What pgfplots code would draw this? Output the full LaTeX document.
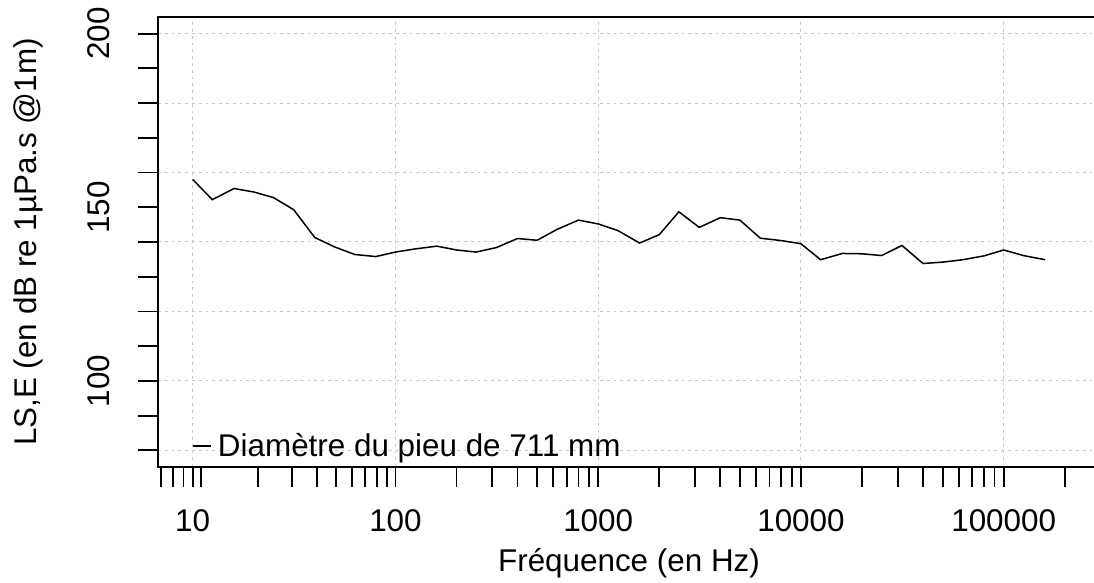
\documentclass[border=0pt]{standalone}
\usepackage{fontspec}
\setmainfont{Liberation Sans}
\usepackage{pgfplots}
\usepackage{pgfplotstable}
\pgfplotsset{compat=1.18}

\definecolor{gridgray}{RGB}{200,200,200}

% niveau LS,E par bande de tiers d'octave
\pgfplotstableread{
f    L
10     158.0
12.5   152.2
16     155.4
20     154.4
25     152.8
31.5   149.3
40     141.3
50     138.6
63     136.4
80     135.8
100    137.1
125    138.0
160    138.8
200    137.7
250    137.1
315    138.4
400    141.0
500    140.5
630    143.7
800    146.3
1000   145.2
1250   143.3
1600   139.7
2000   142.1
2500   148.7
3150   144.2
4000   147.0
5000   146.3
6300   141.1
8000   140.4
10000  139.5
12500  134.9
16000  136.7
20000  136.6
25000  136.1
31500  139.0
40000  133.8
50000  134.2
63000  134.9
80000  136.0
100000 137.7
125000 136.1
160000 134.9
}\spectre

\begin{document}
\begin{tikzpicture}[font=\fontsize{15.7}{18}\selectfont]
\useasboundingbox (0,0) rectangle (547pt,291.5pt);
\begin{axis}[
  at={(79pt,58pt)}, anchor=south west,
  width=471pt, height=225pt, scale only axis,
  xmode=log, log basis x=10,
  xmin=6.745, xmax=298500,
  ymin=75.2, ymax=204.8,
  axis line style={line width=0.9pt},
  tick align=outside, tick pos=left,
  major tick length=10pt, minor tick length=10pt,
  tick style={black, line width=0.9pt},
  xtick={10,100,1000,10000,100000},
  xticklabels={10,100,1000,10000,100000},
  minor xtick={7,8,9,11,21,31,41,51,61,71,81,91,
    200,300,400,500,600,700,800,900,
    2000,3000,4000,5000,6000,7000,8000,9000,
    20000,30000,40000,50000,60000,70000,80000,90000,200000},
  ytick={80,100,...,200},
  yticklabels={,100,,,,,200},
  minor ytick={90,110,...,190},
  extra y ticks={150},
  extra y tick labels={150},
  extra y tick style={grid=none},
  xmajorgrids, ymajorgrids,
  major grid style={gridgray, line width=0.5pt, dash pattern=on 1.4pt off 2pt},
  xticklabel style={anchor=north, yshift=-8pt},
  yticklabel style={xshift=-10.5pt, rotate=90, anchor=south},
  xlabel={Fréquence (en Hz)},
  ylabel={LS,E (en dB re 1µPa.s @1m)},
  xlabel style={at={(axis description cs:0.5,-0.2133)}, anchor=center},
  ylabel style={at={(axis description cs:-0.138,0.5)}, anchor=center},
  legend style={at={(axis description cs:0.0362,0.0167)}, anchor=south west,
    draw=none, fill=none, inner sep=0pt, column sep=3pt,
    nodes={inner sep=0pt}},
  legend cell align=left,
  legend image code/.code={\draw[#1] (0pt,0pt) -- (9pt,0pt);},
]
\addplot[black, line width=0.75pt] table[x=f, y=L] {\spectre};
\addlegendentry{Diamètre du pieu de 711 mm}
\end{axis}
\end{tikzpicture}
\end{document}
